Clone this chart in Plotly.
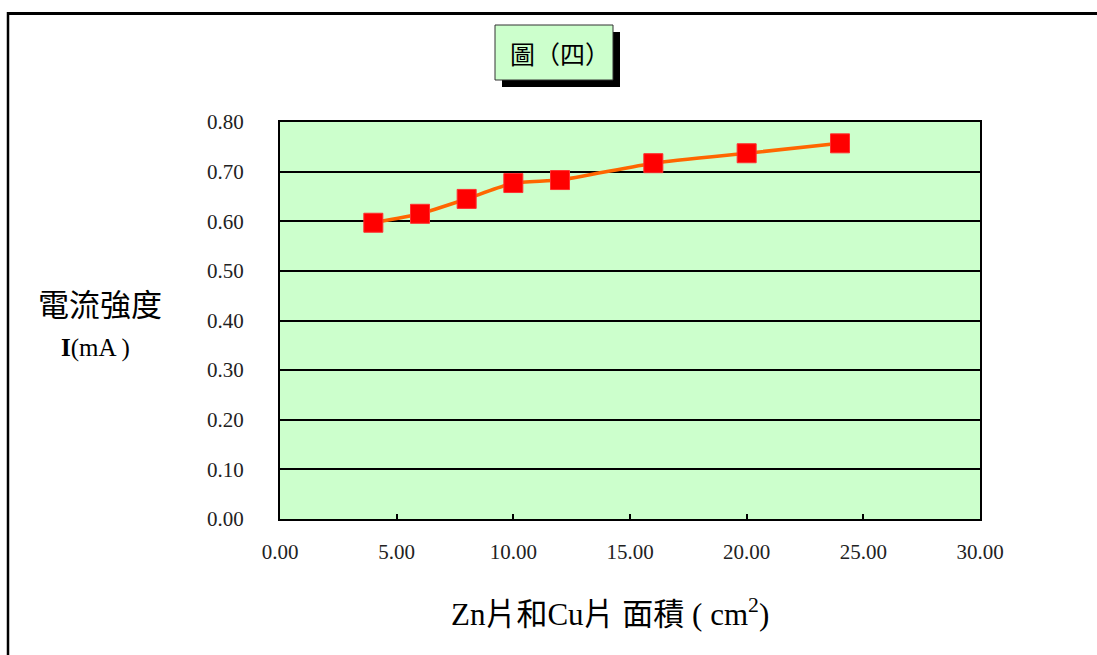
import plotly.graph_objects as go

# Data
area_cm2 = [4, 6, 8, 10, 12, 16, 20, 24]
current_mA = [0.597, 0.615, 0.645, 0.677, 0.683, 0.717, 0.737, 0.757]
x_ticks = [0, 5, 10, 15, 20, 25, 30]
y_ticks = [0.0, 0.1, 0.2, 0.3, 0.4, 0.5, 0.6, 0.7, 0.8]

W, H = 1097, 655
L, R, T, B = 280, 117, 122, 136
PW, PH = W - L - R, H - T - B


def px(x):
    return (x - L) / PW


def py(y):
    return (H - B - y) / PH


SERIF = "Liberation Serif, Noto Sans CJK TC, serif"
CJK = "Noto Sans CJK TC, Liberation Serif, serif"

fig = go.Figure()
fig.add_trace(go.Scatter(
    x=area_cm2, y=current_mA, mode="lines+markers",
    line=dict(color="#ff6600", width=3.5, shape="spline", smoothing=0.5),
    marker=dict(symbol="square", size=19, color="#ff0000",
                line=dict(color="#ff3030", width=1)),
    showlegend=False, hoverinfo="x+y",
))

fig.update_layout(
    width=W, height=H,
    margin=dict(l=L, r=R, t=T, b=B),
    paper_bgcolor="white",
    plot_bgcolor="#ccffcc",
    xaxis=dict(
        range=[0, 30], tickvals=x_ticks,
        ticktext=[f"{v:.2f}" for v in x_ticks],
        showgrid=False, zeroline=False,
        showline=True, linecolor="black", linewidth=2, mirror=True,
        ticks="inside", ticklen=5, tickcolor="black", tickwidth=1.5,
        tickfont=dict(family=SERIF, size=21, color="#222222"),
        ticklabelstandoff=13,
    ),
    yaxis=dict(
        range=[0, 0.8], tickvals=y_ticks,
        ticktext=[f"{v:.2f}" for v in y_ticks],
        showgrid=True, gridcolor="black", gridwidth=1.5,
        zeroline=False,
        showline=True, linecolor="black", linewidth=2, mirror=True,
        ticks="", tickfont=dict(family=SERIF, size=21, color="#222222"),
        ticklabelstandoff=30,
    ),
    shapes=[
        # outer frame (top and left edges)
        dict(type="line", xref="paper", yref="paper",
             x0=px(8), y0=py(13.5), x1=px(1097), y1=py(13.5),
             line=dict(color="black", width=3)),
        dict(type="line", xref="paper", yref="paper",
             x0=px(8), y0=py(12), x1=px(8), y1=py(655),
             line=dict(color="black", width=2.5)),
        # title box shadow
        dict(type="rect", xref="paper", yref="paper",
             x0=px(502), y0=py(32), x1=px(620), y1=py(87),
             fillcolor="black", line=dict(width=0)),
        # title box
        dict(type="rect", xref="paper", yref="paper",
             x0=px(495), y0=py(25), x1=px(613), y1=py(80),
             fillcolor="#ccffcc", line=dict(color="#333333", width=1)),
    ],
    annotations=[
        dict(text="圖（四）", xref="paper", yref="paper",
             x=px(560), y=py(53), xanchor="center", yanchor="middle",
             showarrow=False,
             font=dict(family=CJK, size=25, color="black")),
        dict(text="電流強度", xref="paper", yref="paper",
             x=px(100), y=py(302), xanchor="center", yanchor="middle",
             showarrow=False,
             font=dict(family=CJK, size=31, color="black")),
        dict(text="<b>I</b>(mA )", xref="paper", yref="paper",
             x=px(95), y=py(348), xanchor="center", yanchor="middle",
             showarrow=False,
             font=dict(family=SERIF, size=25, color="black")),
        dict(text="Zn片和Cu片 面積 ( cm<sup>2</sup>)", xref="paper", yref="paper",
             x=px(610), y=py(612), xanchor="center", yanchor="middle",
             showarrow=False,
             font=dict(family=SERIF, size=31, color="black")),
    ],
)

fig.write_html("out.html", config={"displayModeBar": False},
               post_script="document.body.style.margin='0';document.body.style.overflow='hidden';")
